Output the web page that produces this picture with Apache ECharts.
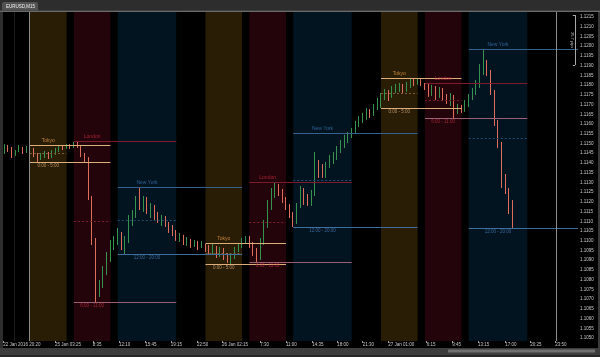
<!DOCTYPE html>
<html><head><meta charset="utf-8">
<script src="https://cdn.jsdelivr.net/npm/echarts@6/dist/echarts.min.js"></script>
<style>html,body{margin:0;padding:0;background:#000;}#c{width:600px;height:357px;}</style>
</head><body><div id="c"></div>
<script>
// ---------------- data ----------------
const symbolName = 'EURUSD,M15';
const barStart = -3.5;   // hours from 25 Jan 00:00 (first bar)
const barStep = 0.5;     // hours per bar
const firstOpen = 1.11456;
const closes = [
1.11487,1.11466,1.11441,1.11461,1.11477,1.11456,1.11472,
1.11466,1.11441,1.11425,1.11436,1.11446,1.11430,1.11451,1.11461,1.11482,1.11477,1.11487,1.11482,
1.11497,1.11487,1.11446,1.11415,1.11220,1.11004,1.10747,1.10778,1.10839,1.10911,1.10978,1.11004,
1.11030,1.10978,1.11004,1.11096,1.11137,1.11209,1.11184,1.11220,1.11158,1.11168,1.11127,1.11107,1.11117,1.11086,1.11066,1.11045,1.11014,
1.11024,1.10994,1.11004,1.10978,1.10988,1.10968,1.10983,
1.10963,1.10942,1.10968,1.10932,1.10952,1.10922,1.10901,1.10916,1.10952,1.10973,1.10999,1.11009,
1.10983,1.10942,1.10911,1.10994,1.11081,1.11168,1.11235,1.11281,1.11245,1.11215,1.11179,1.11137,
1.11096,1.11179,1.11251,1.11220,1.11194,1.11240,1.11405,1.11364,1.11338,1.11384,1.11415,1.11436,1.11466,1.11492,1.11518,1.11538,1.11564,
1.11595,1.11621,1.11631,1.11662,1.11651,1.11682,1.11713,
1.11739,1.11759,1.11744,1.11775,1.11785,1.11795,1.11775,1.11801,1.11821,1.11811,1.11826,
1.11806,1.11795,1.11759,1.11780,1.11744,1.11775,1.11739,1.11723,1.11744,1.11672,1.11682,1.11672,
1.11703,1.11739,1.11765,1.11801,1.11878,1.11919,1.11867,1.11765,1.11610,1.11497,1.11338,1.11261,1.11158,1.11117
];
const highs = [
1.11497,1.11492,1.11482,1.11466,1.11492,1.11482,1.11487,
1.11482,1.11477,1.11451,1.11451,1.11461,1.11456,1.11466,1.11477,1.11492,1.11492,1.11497,1.11497,
1.11508,1.11513,1.11492,1.11451,1.11430,1.11230,1.11014,1.10798,1.10870,1.10942,1.11004,1.11024,
1.11066,1.11045,1.11024,1.11132,1.11158,1.11230,1.11276,1.11230,1.11225,1.11194,1.11184,1.11148,1.11132,1.11127,1.11096,1.11081,1.11055,
1.11040,1.11030,1.11019,1.11009,1.11004,1.10999,1.10999,
1.10983,1.10978,1.10983,1.10973,1.10968,1.10963,1.10937,1.10932,1.10968,1.10988,1.11014,1.11024,
1.11024,1.10994,1.10963,1.11014,1.11107,1.11209,1.11271,1.11297,1.11292,1.11266,1.11225,1.11189,
1.11148,1.11194,1.11281,1.11271,1.11240,1.11261,1.11456,1.11415,1.11394,1.11405,1.11441,1.11456,1.11487,1.11518,1.11544,1.11559,1.11580,
1.11616,1.11641,1.11657,1.11682,1.11677,1.11703,1.11734,
1.11759,1.11780,1.11775,1.11795,1.11806,1.11811,1.11806,1.11816,1.11837,1.11831,1.11837,
1.11831,1.11811,1.11806,1.11801,1.11795,1.11790,1.11785,1.11754,1.11759,1.11749,1.11703,1.11698,
1.11723,1.11754,1.11785,1.11826,1.11908,1.11986,1.11929,1.11878,1.11775,1.11621,1.11508,1.11343,1.11271,1.11209
];
const lows = [
1.11446,1.11456,1.11425,1.11436,1.11456,1.11446,1.11451,
1.11451,1.11430,1.11405,1.11415,1.11425,1.11420,1.11425,1.11441,1.11456,1.11466,1.11472,1.11472,
1.11477,1.11477,1.11430,1.11405,1.11209,1.10978,1.10685,1.10711,1.10757,1.10824,1.10891,1.10952,
1.10978,1.10952,1.10932,1.10988,1.11076,1.11117,1.11158,1.11148,1.11137,1.11117,1.11107,1.11091,1.11076,1.11071,1.11040,1.11024,1.10999,
1.10994,1.10978,1.10973,1.10963,1.10968,1.10952,1.10963,
1.10942,1.10932,1.10927,1.10911,1.10916,1.10901,1.10886,1.10880,1.10906,1.10942,1.10963,1.10988,
1.10963,1.10922,1.10891,1.10901,1.10978,1.11066,1.11158,1.11220,1.11230,1.11194,1.11158,1.11117,
1.11071,1.11086,1.11168,1.11184,1.11179,1.11179,1.11230,1.11323,1.11323,1.11323,1.11374,1.11394,1.11415,1.11451,1.11477,1.11502,1.11528,
1.11554,1.11585,1.11605,1.11621,1.11631,1.11641,1.11672,
1.11682,1.11723,1.11718,1.11734,1.11759,1.11765,1.11754,1.11765,1.11785,1.11795,1.11801,
1.11795,1.11775,1.11739,1.11744,1.11723,1.11734,1.11718,1.11703,1.11693,1.11631,1.11651,1.11657,
1.11662,1.11687,1.11723,1.11749,1.11785,1.11852,1.11847,1.11749,1.11590,1.11477,1.11271,1.11240,1.11137,1.11066
];

const sessionNames = ['Tokyo', 'London', 'New York'];
const sessionRanges = ['0:00 - 5:00', '6:00 - 11:00', '12:00 - 20:00'];
const sessionStart = [0, 6, 12];
const sessionEnd = [5, 11, 20];
const sessionLineEnd = [11, 20, 29];
const dayOffsets = [0, 24, 48];
const sessionHighs = [[1.11492, 1.11513, 1.11276], [1.10988, 1.11302, 1.11554], [1.11837, 1.11811, 1.11986]];
const sessionLows  = [[1.11405, 1.10685, 1.10932], [1.10880, 1.10891, 1.11071], [1.11682, 1.11631, 1.11066]];

const priceTicks = [1.1050,1.1055,1.1060,1.1065,1.1070,1.1075,1.1080,1.1085,1.1090,1.1095,1.1100,1.1105,
  1.1110,1.1115,1.1120,1.1125,1.1130,1.1135,1.1140,1.1145,1.1150,1.1155,1.1160,1.1165,1.1170,1.1175,
  1.1180,1.1185,1.1190,1.1195,1.1200,1.1205,1.1210,1.1215];
const timeTicks = [-3.667, 3.417, 8.583, 12.167, 15.75, 19.25, 22.833, 26.25, 31.5, 35, 38.583, 42, 45.5,
  49, 54.25, 57.75, 61.25, 65, 68.417, 71.833];
const timeLabels = ['22 Jan 2016 20:20', '25 Jan 03:25', '8:35', '12:10', '15:45', '19:15', '22:50',
  '26 Jan 02:15', '7:30', '11:00', '14:35', '18:00', '21:30', '27 Jan 01:00', '6:15', '9:45', '13:15',
  '17:00', '20:25', '23:50'];
const guideHours = [-2.2, -0.07, 71.93];
const rulerHour = 74.53, rulerTop = 1.12160, rulerBottom = 1.11903, rulerText = '25.7 pips';

// ---------------- layout / styles ----------------
const xMin = -3.692, xMax = 74.94;
const yMin = 1.104846, yMax = 1.121757;
const FONT = 'Liberation Sans, DejaVu Sans, sans-serif';
const styles = [
  {band:'#291d06', hi:'#dcae7c', lo:'#dcae7c', mid:'#7e5c36', name:'#e39a45', range:'#d8aa76'},
  {band:'#24040b', hi:'#7d1a2c', lo:'#9c5f75', mid:'#7e1f30', name:'#c8283c', range:'#c2303f'},
  {band:'#02141f', hi:'#33628f', lo:'#3d6e9e', mid:'#1e4a70', name:'#3a74b4', range:'#4a7cb8'}
];
const BULL = '#35924f', BEAR = '#de6e5c';

const candles = closes.map((c, i) => [barStart + i * barStep, i === 0 ? firstOpen : closes[i - 1], c, lows[i], highs[i]]);

const areaData = [];
const lineData = [];
const labelData = [];
dayOffsets.forEach((d, di) => {
  sessionNames.forEach((n, si) => {
    const st = styles[si];
    const s = d + sessionStart[si], e = d + sessionEnd[si];
    const le = Math.min(d + sessionLineEnd[si], xMax);
    const hi = sessionHighs[di][si], lo = sessionLows[di][si], mid = (hi + lo) / 2;
    areaData.push([{xAxis: s, itemStyle: {color: st.band}}, {xAxis: e}]);
    lineData.push([{coord: [s, hi], lineStyle: {color: st.hi, width: 1, type: 'solid'}}, {coord: [le, hi]}]);
    lineData.push([{coord: [s, lo], lineStyle: {color: st.lo, width: 1, type: 'solid'}}, {coord: [le, lo]}]);
    lineData.push([{coord: [s, mid], lineStyle: {color: st.mid, width: 1, type: [2, 2]}}, {coord: [e, mid]}]);
    const cx = (s + e) / 2;
    labelData.push({value: [cx, hi], label: {show: true, position: 'top', distance: 1, formatter: n, color: st.name, fontSize: 5, fontFamily: FONT}});
    labelData.push({value: [cx, lo], label: {show: true, position: 'bottom', distance: 1, formatter: sessionRanges[si], color: st.range, fontSize: 4.5, fontFamily: FONT}});
  });
});
const guideColors = ['#1c1c1c', '#8a8a8a', '#8a8a8a'];
guideHours.forEach((h, i) => lineData.push({xAxis: h, lineStyle: {color: guideColors[i], width: 1, type: 'solid'}}));
lineData.push([{coord: [rulerHour, rulerTop], lineStyle: {color: '#a8a8a8', width: 1, type: 'solid'},
  label: {show: true, formatter: rulerText, position: 'insideMiddleBottom', color: '#bbbbbb', fontSize: 4, distance: 1, fontFamily: FONT}},
  {coord: [rulerHour, rulerBottom]}]);
lineData.push([{coord: [rulerHour - 0.3, rulerTop], lineStyle: {color: '#a8a8a8', width: 1, type: 'solid'}}, {coord: [rulerHour, rulerTop]}]);
lineData.push([{coord: [rulerHour - 0.3, rulerBottom], lineStyle: {color: '#a8a8a8', width: 1, type: 'solid'}}, {coord: [rulerHour, rulerBottom]}]);

const chart = echarts.init(document.getElementById('c'), null, {renderer: 'canvas', width: 600, height: 357});
chart.setOption({
  backgroundColor: '#000',
  animation: false,
  textStyle: {fontFamily: FONT},
  grid: {left: 3, right: 22, top: 12, bottom: 16, containLabel: false},
  xAxis: {
    type: 'value', min: xMin, max: xMax,
    splitLine: {show: false},
    axisLine: {show: false},
    axisTick: {show: true, customValues: timeTicks, length: 2, lineStyle: {color: '#9a9a9a'}},
    axisLabel: {
      customValues: timeTicks, align: 'left', margin: 1, fontSize: 4.5, color: '#c4c4c4',
      formatter: (v) => { let k = 0; timeTicks.forEach((t, i) => { if (Math.abs(t - v) < Math.abs(timeTicks[k] - v)) k = i; }); return timeLabels[k]; }
    }
  },
  yAxis: {
    type: 'value', position: 'right', min: yMin, max: yMax,
    splitLine: {show: false},
    axisLine: {show: true, lineStyle: {color: '#8a8a8a', width: 1}},
    axisTick: {show: true, customValues: priceTicks, length: 2, lineStyle: {color: '#aaaaaa'}},
    axisLabel: {customValues: priceTicks, margin: 2, fontSize: 4.5, color: '#c8c8c8', formatter: (v) => v.toFixed(4)}
  },
  series: [
    {
      type: 'candlestick',
      data: candles,
      encode: {x: 0, y: [1, 2, 3, 4]},
      barWidth: 1.3,
      itemStyle: {color: BULL, color0: BEAR, borderColor: BULL, borderColor0: BEAR, borderWidth: 1},
      markArea: {silent: true, data: areaData},
      markLine: {silent: true, symbol: ['none', 'none'], label: {show: false}, animation: false, data: lineData}
    },
    {
      type: 'scatter', data: labelData, symbol: 'circle', symbolSize: 1,
      itemStyle: {color: 'rgba(0,0,0,0)'}, silent: true, z: 6
    }
  ],
  graphic: [
    {type: 'rect', shape: {x: 0, y: 0, width: 600, height: 10.5}, style: {fill: '#2d2d2d'}, z: 100},
    {type: 'rect', shape: {x: 2, y: 2, width: 36, height: 8.5, r: [2, 2, 0, 0]}, style: {fill: '#525252'}, z: 101},
    {type: 'text', x: 6, y: 6.5, style: {text: symbolName, fill: '#f0f0f0', font: '4.5px ' + FONT, verticalAlign: 'middle'}, z: 102},
    {type: 'rect', shape: {x: 0, y: 10.5, width: 600, height: 1.5}, style: {fill: '#6a6a6a'}, z: 100},
    {type: 'rect', shape: {x: 0, y: 12, width: 3, height: 345}, style: {fill: '#2e2e2e'}, z: 100},
    {type: 'rect', shape: {x: 598, y: 12, width: 2, height: 345}, style: {fill: '#3a3a3a'}, z: 100},
    {type: 'rect', shape: {x: 0, y: 348, width: 600, height: 9}, style: {fill: '#3d3d3d'}, z: 100},
    {type: 'rect', shape: {x: 448, y: 349.5, width: 147, height: 3}, style: {fill: '#707070'}, z: 101},
    {type: 'rect', shape: {x: 0, y: 355, width: 600, height: 2}, style: {fill: '#262626'}, z: 101}
  ]
});
</script></body></html>
